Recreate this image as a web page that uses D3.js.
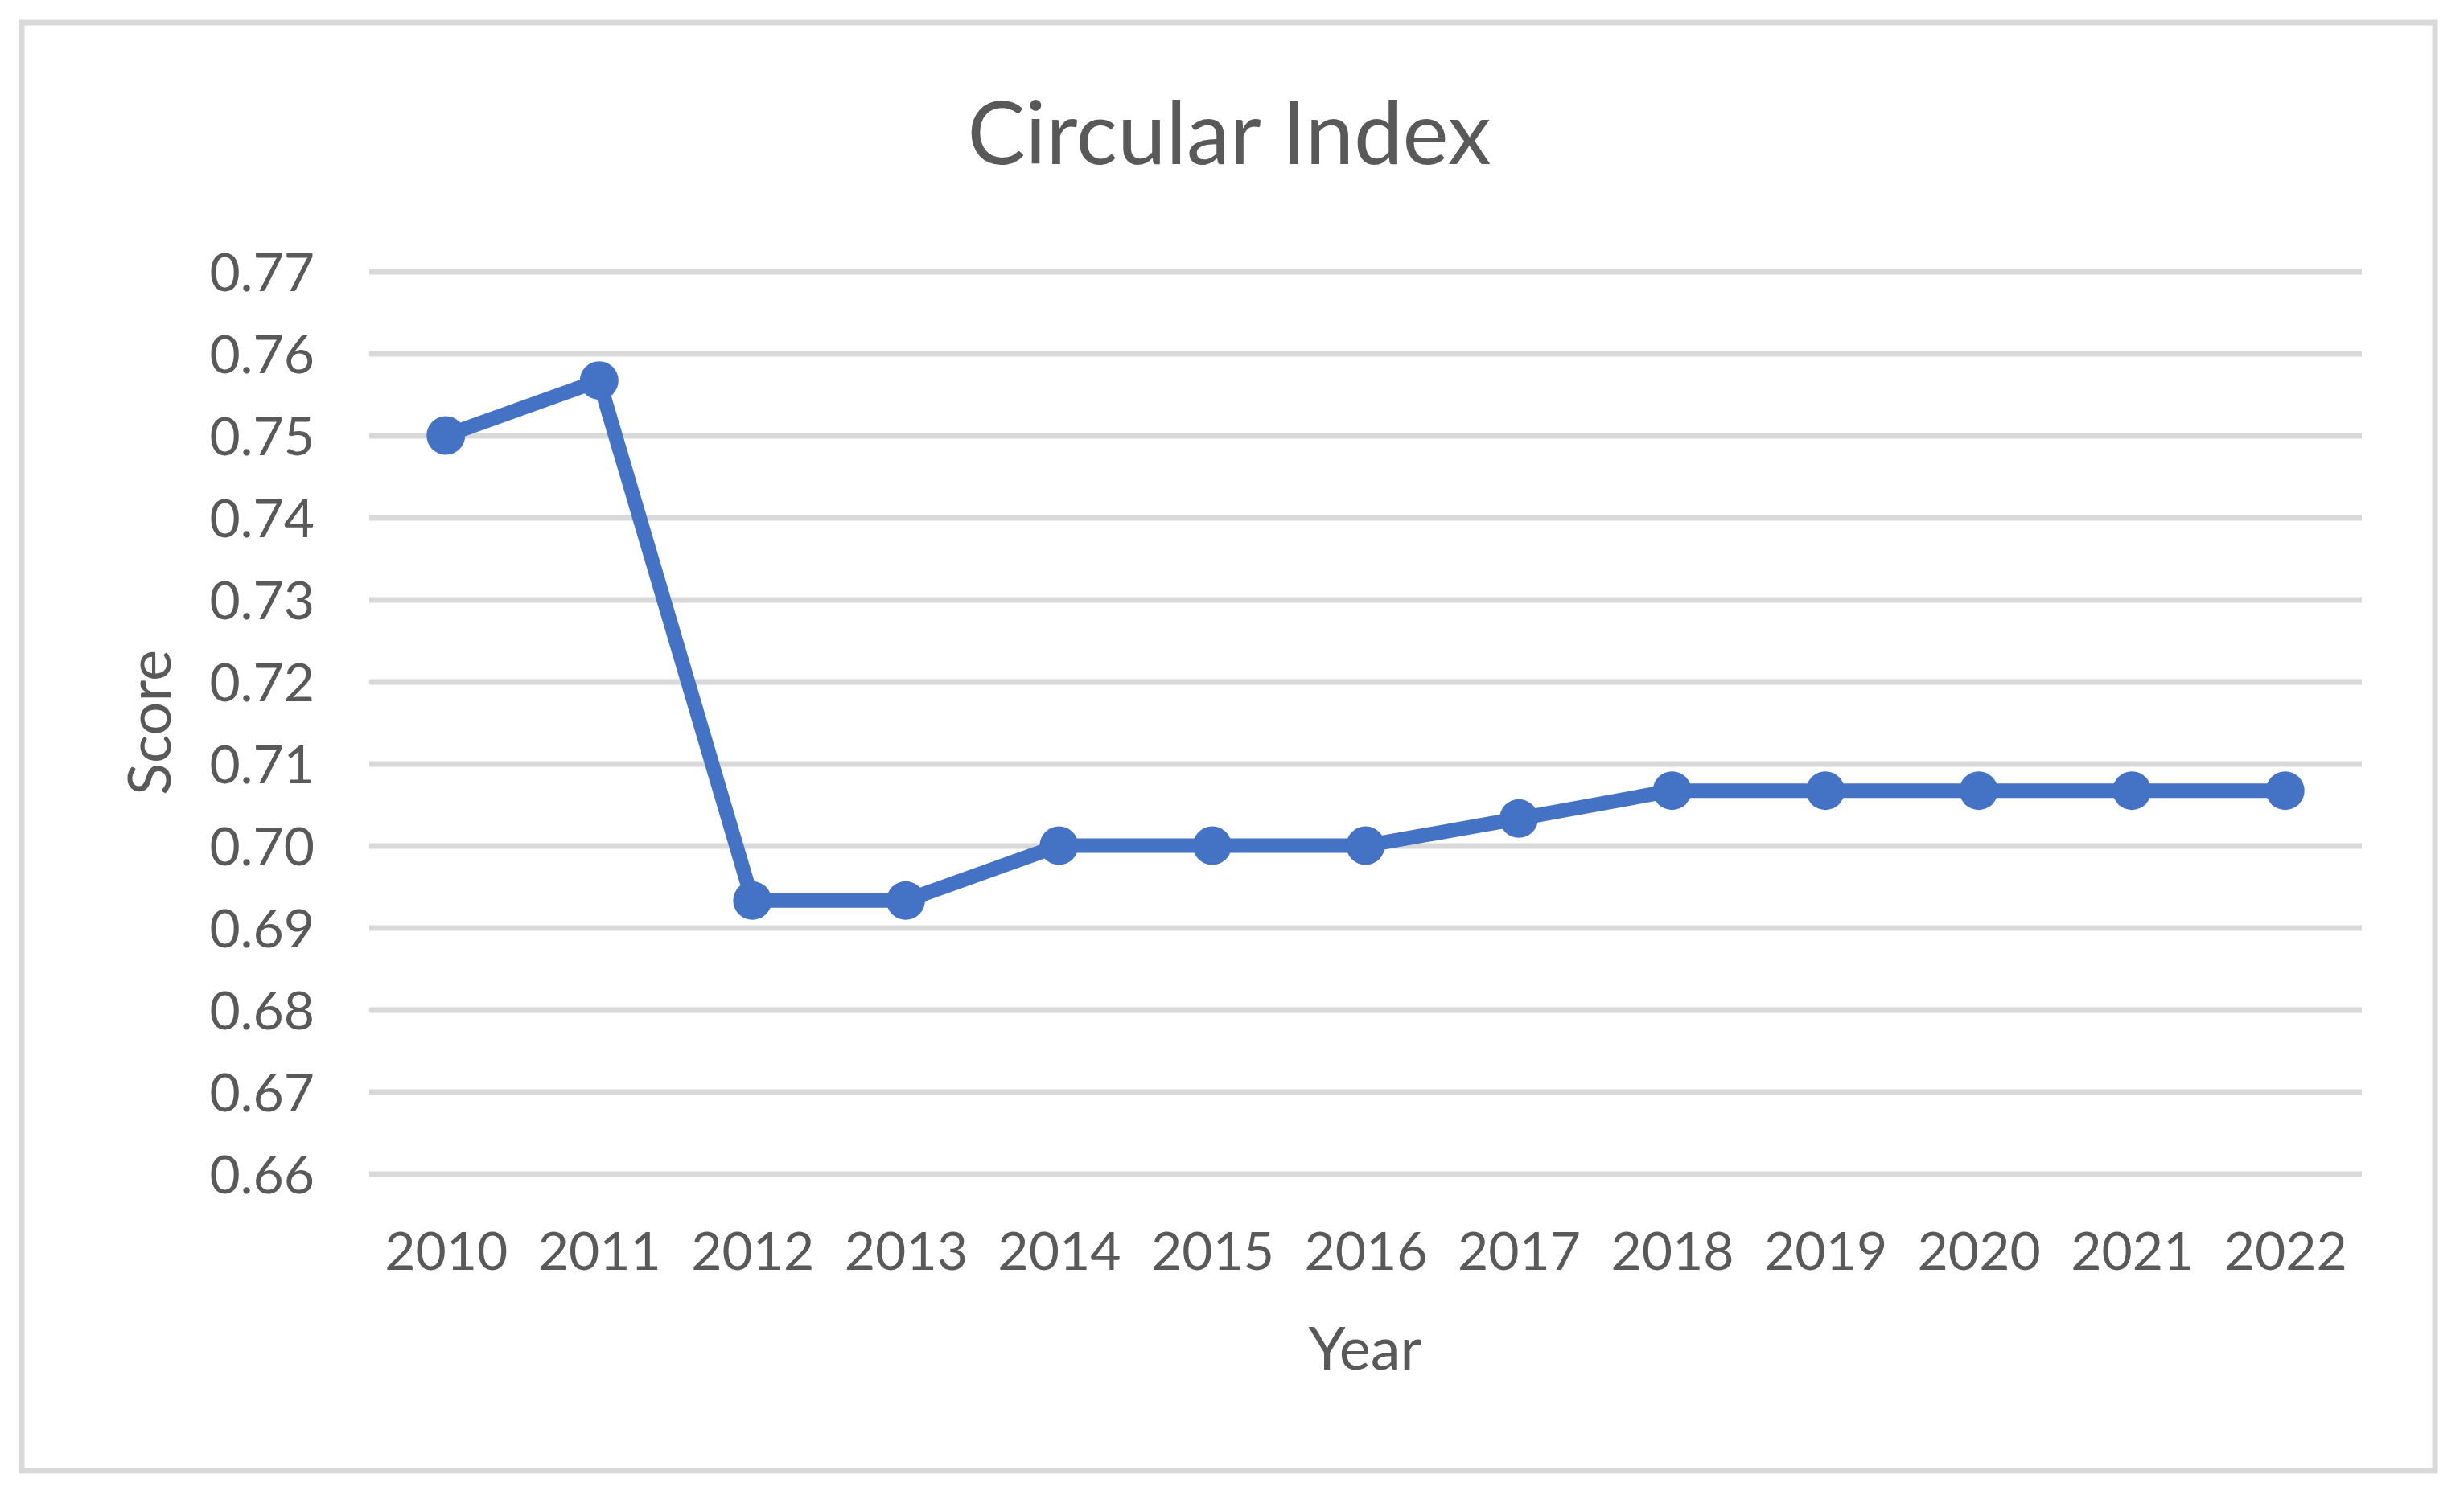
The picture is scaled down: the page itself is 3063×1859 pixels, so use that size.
<!DOCTYPE html>
<html>
<head>
<meta charset="utf-8">
<script src="https://cdn.jsdelivr.net/npm/d3@7"></script>
<style>
  body { margin: 0; background: #fff; }
  svg text { font-family: Lato, "Open Sans", sans-serif; fill: #595959; }
</style>
</head>
<body>
<svg id="chart"></svg>
<script>
// data
const years = ['2010', '2011', '2012', '2013', '2014', '2015', '2016', '2017', '2018', '2019', '2020', '2021', '2022'];
const scores = [0.75, 0.7567, 0.6933, 0.6933, 0.70, 0.70, 0.70, 0.7033, 0.7067, 0.7067, 0.7067, 0.7067, 0.7067];
const yTicks = [0.66, 0.67, 0.68, 0.69, 0.70, 0.71, 0.72, 0.73, 0.74, 0.75, 0.76, 0.77];

const width = 3063;
const height = 1859;

// plot area
const plot = { left: 459, right: 2936, top: 337.5, bottom: 1459.5 };

const svg = d3.select('#chart').attr('width', width).attr('height', height);

// outer frame
svg
  .append('rect')
  .attr('x', 27)
  .attr('y', 28)
  .attr('width', 3000)
  .attr('height', 1801)
  .attr('fill', '#fff')
  .attr('stroke', '#d9d9d9')
  .attr('stroke-width', 7);

const x = d3.scalePoint().domain(years).range([plot.left, plot.right]).padding(0.5);
const y = d3.scaleLinear().domain([0.66, 0.77]).range([plot.bottom, plot.top]);

// gridlines + y labels
const yAxis = d3
  .axisLeft(y)
  .tickValues(yTicks)
  .tickFormat(d3.format('.2f'))
  .tickSize(-(plot.right - plot.left))
  .tickPadding(68);

const gy = svg.append('g').attr('transform', `translate(${plot.left},0)`).call(yAxis);
gy.select('.domain').remove();
gy.selectAll('.tick line').attr('stroke', '#d9d9d9').attr('stroke-width', 7);
gy.selectAll('.tick text')
  .attr('font-size', 66)
  .attr('font-family', 'Lato, sans-serif')
  .attr('fill', '#595959')
  .attr('dy', '0.36em');

// x labels
const xAxis = d3.axisBottom(x).tickSize(0).tickPadding(0);
const gx = svg.append('g').attr('transform', `translate(0,${plot.bottom})`).call(xAxis);
gx.select('.domain').remove();
gx.selectAll('.tick text')
  .attr('font-size', 66)
  .attr('font-family', 'Lato, sans-serif')
  .attr('fill', '#595959')
  .attr('y', 1579 - plot.bottom)
  .attr('dy', 0);

// the series line
const line = d3
  .line()
  .x((d, i) => x(years[i]))
  .y((d) => y(d));

svg
  .append('path')
  .datum(scores)
  .attr('d', line)
  .attr('fill', 'none')
  .attr('stroke', '#4472c4')
  .attr('stroke-width', 18)
  .attr('stroke-linejoin', 'round');

svg
  .selectAll('circle.pt')
  .data(scores)
  .enter()
  .append('circle')
  .attr('class', 'pt')
  .attr('cx', (d, i) => x(years[i]))
  .attr('cy', (d) => y(d))
  .attr('r', 24)
  .attr('fill', '#4472c4');

// titles
svg
  .append('text')
  .attr('x', 1528)
  .attr('y', 204)
  .attr('text-anchor', 'middle')
  .attr('font-size', 108)
  .text('Circular Index');

svg
  .append('text')
  .attr('x', 1697)
  .attr('y', 1703)
  .attr('text-anchor', 'middle')
  .attr('font-size', 74)
  .text('Year');

svg
  .append('text')
  .attr('transform', `translate(212,${(plot.top + plot.bottom) / 2}) rotate(-90)`)
  .attr('text-anchor', 'middle')
  .attr('font-size', 74)
  .text('Score');
</script>
</body>
</html>
